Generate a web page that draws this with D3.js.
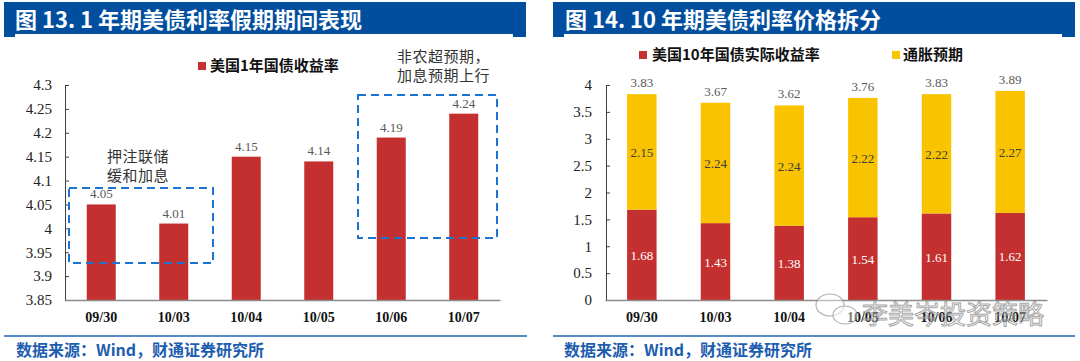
<!DOCTYPE html>
<html><head><meta charset="utf-8">
<script src="https://cdn.jsdelivr.net/npm/d3@7"></script>
<style>
body{margin:0;background:#fff;}
svg{display:block;}
</style></head>
<body>
<svg id="c" width="1080" height="361"></svg>
<script>
// ---- data ----
const leftCategories = ["09/30","10/03","10/04","10/05","10/06","10/07"];
const leftYield1Y = [4.05, 4.01, 4.15, 4.14, 4.19, 4.24];
const leftTicks = [3.85,3.9,3.95,4,4.05,4.1,4.15,4.2,4.25,4.3];

const rightCategories = ["09/30","10/03","10/04","10/05","10/06","10/07"];
const rightReal = [1.68, 1.43, 1.38, 1.54, 1.61, 1.62];
const rightInflation = [2.15, 2.24, 2.24, 2.22, 2.22, 2.27];
const rightTotal = [3.83, 3.67, 3.62, 3.76, 3.83, 3.89];
const rightTicks = [0,0.5,1,1.5,2,2.5,3,3.5,4];

const RED = "#C4302F", YELLOW = "#F9C300", BLUE = "#014E9F";
const serif = "'Liberation Serif','Times New Roman',serif";
const cjk = "'Noto Sans CJK SC','Noto Sans',sans-serif";

const svg = d3.select("#c");

function header(x0, x1, text, tx) {
  svg.append("rect").attr("x", x0).attr("y", 2).attr("width", x1 - x0).attr("height", 35).attr("fill", BLUE);
  svg.append("rect").attr("x", x0 + 11).attr("y", 34).attr("width", x1 - x0 - 24).attr("height", 3).attr("fill", "#fff");
  svg.append("text").attr("x", tx).attr("y", 28).attr("fill", "#fff")
    .attr("font-family", cjk).attr("font-weight", "bold").attr("font-size", 22).text(text);
}
function footer(x0, x1, tx) {
  svg.append("line").attr("x1", x0).attr("x2", x1).attr("y1", 336).attr("y2", 336)
    .attr("stroke", "#1F64B4").attr("stroke-width", 1.5);
  svg.append("text").attr("x", tx).attr("y", 356).attr("fill", "#1D5DB0")
    .attr("font-family", cjk).attr("font-weight", "bold").attr("font-size", 16)
    .text("数据来源：Wind，财通证券研究所");
}

header(4, 526, "图 13. 1 年期美债利率假期期间表现", 15);
header(553, 1075, "图 14. 10 年期美债利率价格拆分", 565);
footer(4, 527, 16);
footer(553, 1075, 564);

// ---------- left chart ----------
{
  const x = d3.scaleBand().domain(leftCategories).range([65, 500]).paddingInner(0.6).paddingOuter(0.3);
  const y = d3.scaleLinear().domain([3.85, 4.3]).range([300, 85]);
  const g = svg.append("g");

  g.selectAll("rect.bar").data(leftYield1Y).join("rect").attr("class", "bar")
    .attr("x", (d, i) => x(leftCategories[i])).attr("width", x.bandwidth())
    .attr("y", d => y(d)).attr("height", d => y(3.85) - y(d)).attr("fill", RED);

  g.selectAll("text.val").data(leftYield1Y).join("text").attr("class", "val")
    .attr("x", (d, i) => x(leftCategories[i]) + x.bandwidth() / 2).attr("y", d => y(d) - 6)
    .attr("text-anchor", "middle").attr("font-family", serif).attr("font-size", 13).attr("fill", "#595959")
    .text(d => d.toFixed(2));

  const ya = g.append("g").attr("transform", "translate(65,0)")
    .call(d3.axisLeft(y).tickValues(leftTicks).tickSizeInner(-4).tickSizeOuter(0).tickPadding(13).tickFormat(d => String(+d.toFixed(2))));
  ya.select(".domain").attr("stroke", "#404040");
  ya.selectAll(".tick line").attr("stroke", "#404040");
  ya.selectAll("text").attr("font-family", serif).attr("font-size", 15).attr("fill", "#222");

  const xa = g.append("g").attr("transform", "translate(0,300)")
    .call(d3.axisBottom(x).tickSize(0).tickPadding(12));
  xa.select(".domain").attr("stroke", "#8c8c8c").attr("stroke-width", 1.5);
  xa.selectAll("text").attr("font-family", serif).attr("font-size", 14).attr("font-weight", "bold").attr("fill", "#111");

  // legend
  g.append("rect").attr("x", 198).attr("y", 62).attr("width", 8).attr("height", 8).attr("fill", RED);
  g.append("text").attr("x", 210).attr("y", 71).attr("font-family", cjk).attr("font-weight", "bold").attr("font-size", 15).attr("fill", "#111").text("美国1年国债收益率");

  // annotation boxes
  const dash = "8,5";
  g.append("rect").attr("x", 69).attr("y", 188).attr("width", 144).attr("height", 75)
    .attr("fill", "none").attr("stroke", "#1C74D0").attr("stroke-width", 2).attr("stroke-dasharray", dash);
  g.append("rect").attr("x", 358).attr("y", 95).attr("width", 139).attr("height", 143)
    .attr("fill", "none").attr("stroke", "#1C74D0").attr("stroke-width", 2).attr("stroke-dasharray", dash);

  const ann = [["押注联储", 107, 162], ["缓和加息", 107, 181], ["非农超预期，", 397, 62], ["加息预期上行", 397, 81]];
  g.selectAll("text.ann").data(ann).join("text").attr("class", "ann")
    .attr("x", d => d[1]).attr("y", d => d[2]).attr("font-family", cjk).attr("font-size", 15).attr("fill", "#333")
    .attr("letter-spacing", 0.5).text(d => d[0]);
}

// ---------- right chart ----------
{
  const x = d3.scaleBand().domain(rightCategories).range([605, 1047]).paddingInner(0.6).paddingOuter(0.3);
  const y = d3.scaleLinear().domain([0, 4]).range([300, 85]);
  const g = svg.append("g");

  const rows = rightCategories.map((c, i) => ({ c, r: rightReal[i], f: rightInflation[i], t: rightTotal[i] }));

  g.selectAll("rect.real").data(rows).join("rect").attr("class", "real")
    .attr("x", d => x(d.c)).attr("width", x.bandwidth())
    .attr("y", d => y(d.r)).attr("height", d => y(0) - y(d.r)).attr("fill", RED);
  g.selectAll("rect.inf").data(rows).join("rect").attr("class", "inf")
    .attr("x", d => x(d.c)).attr("width", x.bandwidth())
    .attr("y", d => y(d.r + d.f)).attr("height", d => y(d.r) - y(d.r + d.f)).attr("fill", YELLOW);

  g.selectAll("text.rv").data(rows).join("text").attr("class", "rv")
    .attr("x", d => x(d.c) + x.bandwidth() / 2).attr("y", d => (y(0) + y(d.r)) / 2 + 5)
    .attr("text-anchor", "middle").attr("font-family", serif).attr("font-size", 13).attr("fill", "#fff")
    .text(d => d.r.toFixed(2));
  g.selectAll("text.fv").data(rows).join("text").attr("class", "fv")
    .attr("x", d => x(d.c) + x.bandwidth() / 2).attr("y", d => (y(d.r) + y(d.r + d.f)) / 2 + 5)
    .attr("text-anchor", "middle").attr("font-family", serif).attr("font-size", 13).attr("fill", "#404040")
    .text(d => d.f.toFixed(2));
  g.selectAll("text.tv").data(rows).join("text").attr("class", "tv")
    .attr("x", d => x(d.c) + x.bandwidth() / 2).attr("y", d => y(d.t) - 7)
    .attr("text-anchor", "middle").attr("font-family", serif).attr("font-size", 13).attr("fill", "#595959")
    .text(d => d.t.toFixed(2));

  const ya = g.append("g").attr("transform", "translate(606,0)")
    .call(d3.axisLeft(y).tickValues(rightTicks).tickSizeInner(-4).tickSizeOuter(0).tickPadding(14).tickFormat(d => String(d)));
  ya.select(".domain").attr("stroke", "#404040");
  ya.selectAll(".tick line").attr("stroke", "#404040");
  ya.selectAll("text").attr("font-family", serif).attr("font-size", 15).attr("fill", "#222");

  const xa = g.append("g").attr("transform", "translate(0,300)")
    .call(d3.axisBottom(x).tickSize(0).tickPadding(12));
  xa.select(".domain").attr("stroke", "#8c8c8c").attr("stroke-width", 1.5);
  xa.selectAll("text").attr("font-family", serif).attr("font-size", 14).attr("font-weight", "bold").attr("fill", "#111");

  // legend
  g.append("rect").attr("x", 639).attr("y", 51).attr("width", 8).attr("height", 8).attr("fill", RED);
  g.append("text").attr("x", 652).attr("y", 60).attr("font-family", cjk).attr("font-weight", "bold").attr("font-size", 15).attr("fill", "#111").text("美国10年国债实际收益率");
  g.append("rect").attr("x", 892).attr("y", 51).attr("width", 8).attr("height", 8).attr("fill", YELLOW);
  g.append("text").attr("x", 903).attr("y", 60).attr("font-family", cjk).attr("font-weight", "bold").attr("font-size", 15).attr("fill", "#111").text("通胀预期");

  // watermark
  const wm = g.append("g").attr("opacity", 0.75);
  wm.append("ellipse").attr("cx", 830).attr("cy", 305).attr("rx", 14).attr("ry", 11).attr("fill", "rgba(255,255,255,0.6)").attr("stroke", "#999").attr("stroke-width", 1.2);
  wm.append("ellipse").attr("cx", 845).attr("cy", 315).attr("rx", 12).attr("ry", 9).attr("fill", "rgba(255,255,255,0.6)").attr("stroke", "#999").attr("stroke-width", 1.2);
  wm.append("text").attr("x", 862).attr("y", 324).attr("font-family", cjk).attr("font-size", 26)
    .attr("fill", "rgba(255,255,255,0.55)").attr("stroke", "#8a8a8a").attr("stroke-width", 1).text("李美岑投资策略");
}
</script>
</body></html>
